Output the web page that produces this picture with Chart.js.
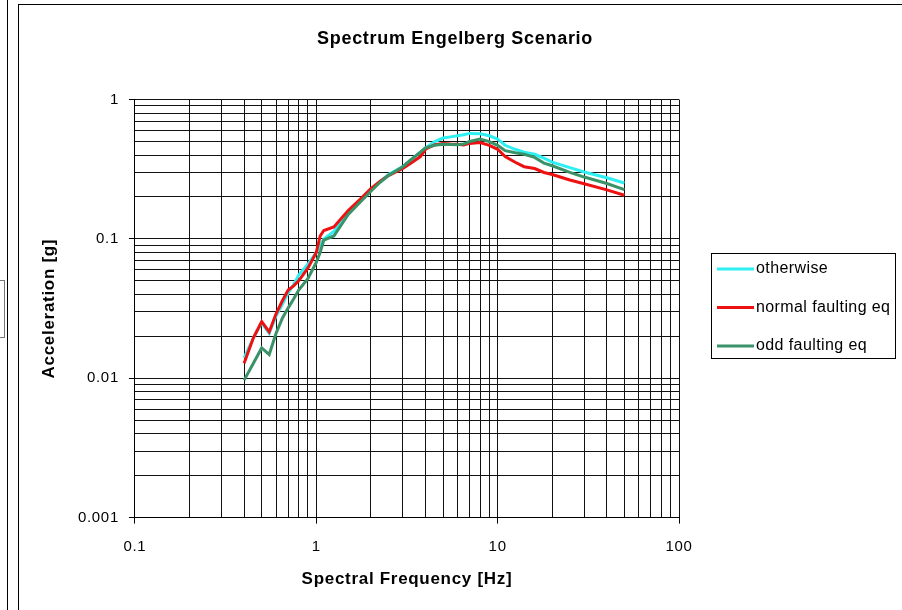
<!DOCTYPE html>
<html>
<head>
<meta charset="utf-8">
<script src="https://cdn.jsdelivr.net/npm/chart.js@4.4.1/dist/chart.umd.min.js"></script>
<style>
  body { margin: 0; background: #fff; width: 902px; height: 610px; overflow: hidden; position: relative; }
  #sideLine { position: absolute; left: 7px; top: 0; width: 1px; height: 610px; background: #000; }
  #sideBox { position: absolute; left: -1px; top: 280px; width: 4px; height: 56px; border: 1px solid #777; }
  #frame { position: absolute; left: 18px; top: 4px; width: 884px; height: 606px; border-left: 1px solid #000; border-top: 1px solid #000; }
  #wrap { position: absolute; left: 0; top: 0; width: 883px; height: 605px; }
</style>
</head>
<body>
<div id="sideLine"></div>
<div id="sideBox"></div>
<div id="frame"><div id="wrap"><canvas id="spectrum"></canvas></div></div>
<script>
// spectral frequency [Hz]
var freqs = [0.4, 0.45, 0.5, 0.55, 0.6, 0.65, 0.7, 0.75, 0.8, 0.9, 1.0, 1.05, 1.1, 1.25, 1.5, 1.75, 2.0, 2.25, 2.5, 3.0,
  3.33, 3.75, 4.0, 4.5, 5.0, 5.5, 6.0, 6.5, 7.0, 8.0, 9.0, 10, 11, 12.5, 14, 16, 18, 20, 25, 30, 40, 50];

// acceleration [g]
var otherwise = [0.014, 0.0195, 0.025, 0.021, 0.028, 0.034, 0.041, 0.047, 0.055, 0.066, 0.08, 0.09, 0.1, 0.113, 0.155, 0.19, 0.225, 0.258, 0.29, 0.33,
  0.37, 0.42, 0.45, 0.5, 0.53, 0.54, 0.55, 0.56, 0.572, 0.568, 0.55, 0.52, 0.47, 0.44, 0.42, 0.405, 0.38, 0.356, 0.325, 0.302, 0.275, 0.252];
var normalFaulting = [0.0128, 0.0195, 0.0255, 0.0215, 0.029, 0.036, 0.043, 0.046, 0.05, 0.062, 0.08, 0.105, 0.115, 0.122, 0.16, 0.193, 0.23, 0.26, 0.285, 0.32,
  0.35, 0.39, 0.44, 0.475, 0.485, 0.48, 0.478, 0.472, 0.485, 0.492, 0.47, 0.44, 0.39, 0.355, 0.33, 0.32, 0.30, 0.29, 0.265, 0.249, 0.225, 0.206];
var oddFaulting = [0.0097, 0.0128, 0.0165, 0.0148, 0.021, 0.027, 0.032, 0.037, 0.043, 0.052, 0.068, 0.08, 0.098, 0.105, 0.15, 0.184, 0.22, 0.255, 0.285, 0.33,
  0.37, 0.42, 0.45, 0.47, 0.478, 0.476, 0.474, 0.48, 0.5, 0.522, 0.5, 0.47, 0.43, 0.415, 0.405, 0.385, 0.35, 0.335, 0.3, 0.278, 0.25, 0.226];

var xTickLabels = [0.1, 1, 10, 100];
var yTickLabels = [0.001, 0.01, 0.1, 1];

function pts(vals) {
  return freqs.map(function (f, i) { return { x: f, y: vals[i] }; });
}

// decades plus 2..9 minor lines in between
function logTicks(decades) {
  var out = [];
  decades.forEach(function (d, i) {
    out.push({ value: d, major: true });
    if (i < decades.length - 1) {
      for (var k = 2; k <= 9; k++) out.push({ value: Number((d * k).toPrecision(6)), major: false });
    }
  });
  return out;
}

var font = "'Liberation Sans', Arial, sans-serif";

// the excel screenshot text is a bit stretched, widen it slightly
var spacing = {
  id: 'spacing',
  beforeDraw: function (chart) { chart.ctx.letterSpacing = '0.7px'; }
};

// boxed legend on the right, as in the excel chart
var boxLegend = {
  id: 'boxLegend',
  afterDraw: function (chart) {
    var c = chart.ctx, a = chart.chartArea;
    var left = Math.round(a.right + 32), top = Math.round((a.top + a.bottom) / 2 - 56);
    c.save();
    c.letterSpacing = '0.4px';
    c.strokeStyle = '#000';
    c.lineWidth = 1;
    c.strokeRect(left + 0.5, top + 0.5, 184, 105);
    c.font = '16px ' + font;
    c.fillStyle = '#000';
    c.textBaseline = 'middle';
    c.textAlign = 'left';
    chart.data.datasets.forEach(function (ds, i) {
      var y = top + 16 + i * 38.5;
      c.strokeStyle = ds.borderColor;
      c.lineWidth = 3;
      c.beginPath();
      c.moveTo(left + 6, y);
      c.lineTo(left + 43, y);
      c.stroke();
      c.fillText(ds.label, left + 45, y);
    });
    c.restore();
  }
};

function axisTickColor(ctx) {
  return ctx.tick && ctx.tick.major ? '#000' : 'rgba(0,0,0,0)';
}

new Chart(document.getElementById('spectrum'), {
  type: 'line',
  data: {
    datasets: [
      { label: 'otherwise', data: pts(otherwise), borderColor: '#2ef0f2', backgroundColor: '#2ef0f2', borderWidth: 3, pointRadius: 0, order: 3 },
      { label: 'normal faulting eq', data: pts(normalFaulting), borderColor: '#ee1111', backgroundColor: '#ee1111', borderWidth: 3, pointRadius: 0, order: 2 },
      { label: 'odd faulting eq', data: pts(oddFaulting), borderColor: '#3a9368', backgroundColor: '#3a9368', borderWidth: 3, pointRadius: 0, order: 1 }
    ]
  },
  options: {
    responsive: true,
    maintainAspectRatio: false,
    animation: false,
    layout: { padding: { left: 0, right: 11, top: 0, bottom: 14 } },
    plugins: {
      title: {
        display: true,
        text: 'Spectrum Engelberg Scenario',
        color: '#000',
        font: { family: font, size: 18, weight: 'bold' },
        padding: { top: 23, bottom: 50 }
      },
      legend: { display: false },
      tooltip: { enabled: false }
    },
    scales: {
      x: {
        type: 'logarithmic',
        min: 0.1,
        max: 100,
        afterBuildTicks: function (scale) { scale.ticks = logTicks(xTickLabels); },
        ticks: {
          autoSkip: false,
          maxRotation: 0,
          color: '#000',
          padding: 14,
          font: { family: font, size: 15 },
          callback: function (v) { return xTickLabels.indexOf(v) >= 0 ? String(v) : ''; }
        },
        grid: { color: '#111', lineWidth: 1, tickLength: 6, tickColor: axisTickColor },
        border: { display: true, color: '#000', width: 1 },
        title: {
          display: true,
          text: 'Spectral Frequency [Hz]',
          color: '#000',
          font: { family: font, size: 17, weight: 'bold' },
          padding: { top: 0, bottom: 6 }
        }
      },
      y: {
        type: 'logarithmic',
        min: 0.001,
        max: 1,
        afterBuildTicks: function (scale) { scale.ticks = logTicks(yTickLabels); },
        ticks: {
          autoSkip: false,
          color: '#000',
          padding: 10,
          font: { family: font, size: 15 },
          callback: function (v) { return yTickLabels.indexOf(v) >= 0 ? String(v) : ''; }
        },
        grid: { color: '#111', lineWidth: 1, tickLength: 6, tickColor: axisTickColor },
        border: { display: true, color: '#000', width: 1 },
        title: {
          display: true,
          text: 'Acceleration [g]',
          color: '#000',
          font: { family: font, size: 17, weight: 'bold' },
          padding: { top: 20, bottom: 12 }
        }
      },
      // empty right axis that only reserves room for the boxed legend
      legendRoom: {
        position: 'right',
        afterFit: function (scale) { scale.width = 212; },
        grid: { display: false },
        border: { display: false },
        ticks: { display: false }
      }
    }
  },
  plugins: [spacing, boxLegend]
});
</script>
</body>
</html>
